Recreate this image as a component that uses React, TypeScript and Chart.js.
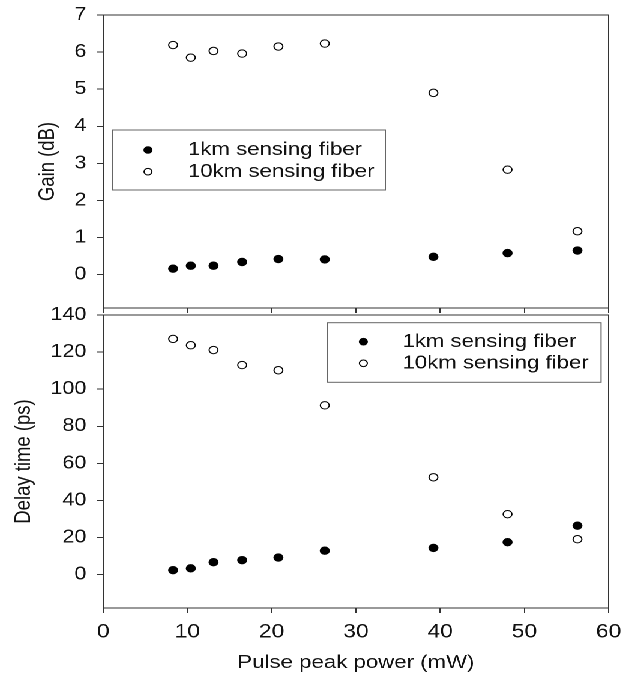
import React, { useEffect, useRef } from "react";
import { Chart, registerables } from "chart.js";

Chart.register(...registerables);

// ---- data ----
const power = [8.3, 10.4, 13.1, 16.5, 20.8, 26.3, 39.2, 48.0, 56.3];
const gain1km = [0.16, 0.24, 0.24, 0.34, 0.42, 0.41, 0.48, 0.58, 0.65];
const gain10km = [6.19, 5.85, 6.03, 5.96, 6.15, 6.23, 4.9, 2.83, 1.17];
const delay1km = [2.4, 3.4, 6.7, 7.8, 9.2, 12.9, 14.4, 17.5, 26.4];
const delay10km = [127.1, 123.7, 121.1, 113.0, 110.2, 91.3, 52.5, 32.6, 19.1];
const seriesLabels = ["1km sensing fiber", "10km sensing fiber"];
const powerTicks = [0, 10, 20, 30, 40, 50, 60];
const gainTicks = [0, 1, 2, 3, 4, 5, 6, 7];
const delayTicks = [0, 20, 40, 60, 80, 100, 120, 140];

// ---- layout / style ----
const W = 529;
const SX = 635 / W;
const FONT = 'Arial, "Liberation Sans", Helvetica, sans-serif';
const INK = "#111";
const AXIS = "#333";
const BOT_TOP = 290; // top of the lower canvas (page px)

const framePlugin = {
  id: "frameBox",
  afterDraw(chart: any) {
    const { ctx } = chart;
    const { left, top, right, bottom } = chart.chartArea;
    ctx.save();
    ctx.strokeStyle = AXIS;
    ctx.lineWidth = 1;
    ctx.strokeRect(left, top, right - left, bottom - top);
    ctx.restore();
  },
};

function makeLegend(box: number[], markerX: number, textX: number, rows: number[]) {
  return {
    id: "insetLegend",
    afterDraw(chart: any) {
      const { ctx } = chart;
      ctx.save();
      ctx.fillStyle = "#fff";
      ctx.fillRect(box[0], box[1], box[2] - box[0], box[3] - box[1]);
      ctx.strokeStyle = "#666";
      ctx.lineWidth = 1;
      ctx.strokeRect(box[0], box[1], box[2] - box[0], box[3] - box[1]);
      chart.data.datasets.forEach((ds: any, i: number) => {
        const y = rows[i];
        ctx.beginPath();
        ctx.arc(markerX, y, 3.3, 0, Math.PI * 2);
        ctx.fillStyle = ds.pointBackgroundColor;
        ctx.fill();
        ctx.strokeStyle = ds.pointBorderColor;
        ctx.lineWidth = 1;
        ctx.stroke();
        ctx.fillStyle = INK;
        ctx.font = `18.5px ${FONT}`;
        ctx.textBaseline = "middle";
        ctx.textAlign = "left";
        ctx.fillText(ds.label, textX, y);
      });
      ctx.restore();
    },
  };
}

function datasets(a: number[], b: number[]) {
  const common = { pointRadius: 3.7, pointBorderWidth: 1, pointBorderColor: "#000", showLine: false };
  return [
    { ...common, label: seriesLabels[0], data: power.map((x, i) => ({ x, y: a[i] })), pointBackgroundColor: "#000" },
    { ...common, label: seriesLabels[1], data: power.map((x, i) => ({ x, y: b[i] })), pointBackgroundColor: "#fff" },
  ];
}

const tickGrid = { display: true, drawOnChartArea: false, drawTicks: true, tickLength: 5, color: AXIS, lineWidth: 1 };

function fixSize(w: number | null, h: number | null) {
  return (s: any) => {
    if (w !== null) s.width = w;
    if (h !== null) s.height = h;
    s.paddingTop = 0;
    s.paddingBottom = 0;
    s.paddingLeft = 0;
    s.paddingRight = 0;
  };
}

function topConfig(): any {
  return {
    type: "scatter",
    data: { datasets: datasets(gain1km, gain10km) },
    options: {
      animation: false,
      responsive: true,
      maintainAspectRatio: false,
      devicePixelRatio: 2,
      events: [],
      layout: { padding: { top: 15, left: 29, right: 22, bottom: 0 } },
      plugins: { legend: { display: false }, tooltip: { enabled: false } },
      scales: {
        x: {
          type: "linear",
          position: "bottom",
          min: 0,
          max: 60,
          afterBuildTicks: (s: any) => { s.ticks = powerTicks.map((v) => ({ value: v })); },
          ticks: { display: false },
          grid: tickGrid,
          border: { display: false },
          afterFit: fixSize(null, 12),
        },
        y: {
          type: "linear",
          min: -0.9,
          max: 7,
          afterBuildTicks: (s: any) => { s.ticks = gainTicks.map((v) => ({ value: v })); },
          ticks: { font: { family: FONT, size: 18 }, color: INK, padding: 9 },
          grid: tickGrid,
          border: { display: false },
          title: { display: true, text: "Gain (dB)", font: { family: FONT, size: 18.5 }, color: INK, padding: 0 },
          afterFit: fixSize(57, null),
        },
      },
    },
    plugins: [framePlugin, makeLegend([94, 130, 321, 190], 123.3, 156.6, [150, 171.7])],
  };
}

function bottomConfig(): any {
  const o = BOT_TOP;
  return {
    type: "scatter",
    data: { datasets: datasets(delay1km, delay10km) },
    options: {
      animation: false,
      responsive: true,
      maintainAspectRatio: false,
      devicePixelRatio: 2,
      events: [],
      layout: { padding: { top: 315 - o, left: 9, right: 22, bottom: 0 } },
      plugins: { legend: { display: false }, tooltip: { enabled: false } },
      scales: {
        x: {
          type: "linear",
          position: "bottom",
          min: 0,
          max: 60,
          afterBuildTicks: (s: any) => { s.ticks = powerTicks.map((v) => ({ value: v })); },
          ticks: { font: { family: FONT, size: 19 }, color: INK, padding: 8, maxRotation: 0 },
          grid: tickGrid,
          border: { display: false },
          title: {
            display: true,
            text: "Pulse peak power (mW)",
            font: { family: FONT, size: 18.5 },
            color: INK,
            padding: { top: 0, bottom: 3 },
          },
          afterFit: fixSize(null, 69),
        },
        y: {
          type: "linear",
          min: -18,
          max: 140,
          afterBuildTicks: (s: any) => { s.ticks = delayTicks.map((v) => ({ value: v })); },
          ticks: { font: { family: FONT, size: 18 }, color: INK, padding: 9 },
          grid: tickGrid,
          border: { display: false },
          title: { display: true, text: "Delay time (ps)", font: { family: FONT, size: 18.5 }, color: INK, padding: 0 },
          afterFit: fixSize(77, null),
        },
      },
    },
    plugins: [framePlugin, makeLegend([273, 322.7 - o, 500.7, 382.3 - o], 302.7, 335.2, [341.7 - o, 363.3 - o])],
  };
}

export default function App() {
  const topRef = useRef<HTMLCanvasElement | null>(null);
  const botRef = useRef<HTMLCanvasElement | null>(null);

  useEffect(() => {
    const c1 = new Chart(topRef.current as HTMLCanvasElement, topConfig());
    const c2 = new Chart(botRef.current as HTMLCanvasElement, bottomConfig());
    return () => {
      c1.destroy();
      c2.destroy();
    };
  }, []);

  return (
    <div
      style={{
        position: "fixed",
        left: 0,
        top: 0,
        width: W,
        height: 677,
        transform: `scaleX(${SX})`,
        transformOrigin: "0 0",
        background: "#fff",
      }}
    >
      <div style={{ position: "absolute", left: 0, top: 0, width: W, height: 320 }}>
        <canvas ref={topRef} />
      </div>
      <div style={{ position: "absolute", left: 0, top: BOT_TOP, width: W, height: 677 - BOT_TOP }}>
        <canvas ref={botRef} />
      </div>
    </div>
  );
}
